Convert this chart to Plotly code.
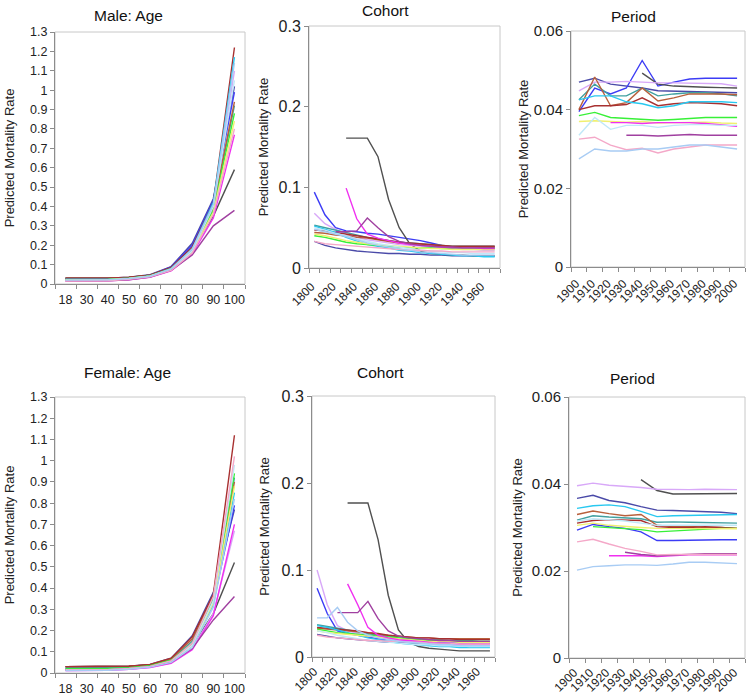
import plotly.graph_objects as go

# ---------------- data ----------------
series_names = ["navy", "blue", "black", "lavender", "teal", "sienna", "darkred", "cyan",
                "green", "yellow", "magenta", "lightcyan", "purple", "pink", "lightblue"]
series_colors = ["#4a4aa8", "#3c3cf5", "#505050", "#d8a8f8", "#40a0a0", "#b8603c", "#a83030",
                 "#28c8f0", "#38f038", "#f0f070", "#f030f0", "#c0e8f8", "#a040a0", "#f4a8c8", "#a8ccf4"]

age_labels = ["18", "30", "40", "50", "60", "70", "80", "90", "100"]
cohort_years = [1800, 1810, 1820, 1830, 1840, 1850, 1860, 1870, 1880, 1890,
                1900, 1910, 1920, 1930, 1940, 1950, 1960, 1970]
cohort_ticks = [1800, 1820, 1840, 1860, 1880, 1900, 1920, 1940, 1960]
period_years = [1900, 1910, 1920, 1930, 1940, 1950, 1960, 1970, 1980, 1990, 2000]

male_age = {
    "navy":      [0.030, 0.030, 0.030, 0.035, 0.048, 0.090, 0.210, 0.440, 1.02],
    "blue":      [0.025, 0.025, 0.025, 0.032, 0.045, 0.088, 0.200, 0.430, 0.99],
    "black":     [0.030, 0.030, 0.030, 0.034, 0.045, 0.080, 0.170, 0.350, 0.59],
    "lavender":  [0.020, 0.020, 0.022, 0.028, 0.040, 0.075, 0.170, 0.400, 1.10],
    "teal":      [0.028, 0.028, 0.028, 0.033, 0.044, 0.080, 0.180, 0.390, 0.92],
    "sienna":    [0.030, 0.030, 0.030, 0.034, 0.045, 0.082, 0.180, 0.400, 0.94],
    "darkred":   [0.030, 0.030, 0.030, 0.035, 0.045, 0.085, 0.190, 0.420, 1.22],
    "cyan":      [0.025, 0.025, 0.025, 0.030, 0.042, 0.080, 0.180, 0.420, 1.17],
    "green":     [0.022, 0.022, 0.024, 0.030, 0.042, 0.078, 0.170, 0.380, 0.88],
    "yellow":    [0.020, 0.020, 0.022, 0.028, 0.040, 0.075, 0.170, 0.370, 0.84],
    "magenta":   [0.015, 0.015, 0.016, 0.022, 0.035, 0.068, 0.155, 0.340, 0.77],
    "lightcyan": [0.020, 0.020, 0.020, 0.027, 0.040, 0.075, 0.170, 0.400, 1.05],
    "purple":    [0.015, 0.015, 0.016, 0.022, 0.036, 0.070, 0.150, 0.300, 0.38],
    "pink":      [0.015, 0.015, 0.017, 0.024, 0.037, 0.070, 0.160, 0.360, 0.80],
    "lightblue": [0.020, 0.020, 0.022, 0.028, 0.040, 0.078, 0.180, 0.410, 1.14],
}

female_age = {
    "navy":      [0.030, 0.030, 0.030, 0.032, 0.040, 0.070, 0.175, 0.380, 0.77],
    "blue":      [0.020, 0.020, 0.021, 0.025, 0.034, 0.060, 0.140, 0.330, 0.79],
    "black":     [0.030, 0.030, 0.030, 0.032, 0.038, 0.060, 0.130, 0.280, 0.52],
    "lavender":  [0.012, 0.012, 0.013, 0.017, 0.027, 0.048, 0.115, 0.280, 0.67],
    "teal":      [0.025, 0.025, 0.026, 0.028, 0.036, 0.062, 0.150, 0.350, 0.92],
    "sienna":    [0.030, 0.030, 0.030, 0.032, 0.038, 0.066, 0.160, 0.360, 0.90],
    "darkred":   [0.030, 0.030, 0.030, 0.032, 0.040, 0.070, 0.170, 0.370, 1.12],
    "cyan":      [0.015, 0.015, 0.016, 0.020, 0.030, 0.055, 0.130, 0.320, 0.85],
    "green":     [0.020, 0.020, 0.021, 0.025, 0.034, 0.060, 0.140, 0.350, 0.94],
    "yellow":    [0.015, 0.015, 0.016, 0.020, 0.030, 0.055, 0.130, 0.330, 0.88],
    "magenta":   [0.012, 0.012, 0.013, 0.017, 0.026, 0.046, 0.110, 0.270, 0.70],
    "lightcyan": [0.015, 0.015, 0.016, 0.020, 0.030, 0.055, 0.130, 0.340, 0.98],
    "purple":    [0.015, 0.015, 0.016, 0.020, 0.030, 0.050, 0.115, 0.250, 0.36],
    "pink":      [0.015, 0.015, 0.016, 0.021, 0.031, 0.057, 0.140, 0.360, 1.02],
    "lightblue": [0.012, 0.012, 0.013, 0.018, 0.028, 0.050, 0.120, 0.310, 0.82],
}

male_cohort = {
    "navy":      [0.033, 0.028, 0.025, 0.023, 0.021, 0.020, 0.019, 0.018, 0.018, 0.017, 0.017, 0.016, 0.016, 0.015, 0.015, 0.015, 0.015, 0.015],
    "blue":      [0.094, 0.066, 0.050, 0.046, 0.045, 0.043, 0.042, 0.040, 0.038, 0.036, 0.034, 0.031, 0.028, 0.026, 0.026, 0.026, 0.026, 0.026],
    "black":     [None, None, None, 0.161, 0.161, 0.161, 0.138, 0.085, 0.050, 0.030, 0.021, 0.018, 0.017, 0.016, 0.016, 0.015, 0.015, 0.015],
    "lavender":  [0.068, 0.055, 0.048, 0.042, 0.038, 0.035, 0.033, 0.031, 0.029, 0.028, 0.027, 0.026, 0.025, 0.024, 0.023, 0.023, 0.022, 0.022],
    "teal":      [0.053, 0.050, 0.047, 0.044, 0.041, 0.038, 0.036, 0.034, 0.032, 0.031, 0.030, 0.029, 0.028, 0.027, 0.027, 0.027, 0.027, 0.027],
    "sienna":    [0.044, 0.043, 0.041, 0.040, 0.038, 0.037, 0.035, 0.033, 0.031, 0.030, 0.029, 0.028, 0.027, 0.026, 0.026, 0.026, 0.026, 0.026],
    "darkred":   [0.047, 0.046, 0.044, 0.042, 0.040, 0.038, 0.036, 0.034, 0.032, 0.031, 0.030, 0.029, 0.028, 0.027, 0.027, 0.027, 0.027, 0.027],
    "cyan":      [0.052, 0.048, 0.044, 0.038, 0.033, 0.029, 0.027, 0.025, 0.022, 0.021, 0.019, 0.018, 0.017, 0.016, 0.015, 0.015, 0.014, 0.014],
    "green":     [0.040, 0.038, 0.035, 0.032, 0.030, 0.029, 0.028, 0.027, 0.026, 0.025, 0.025, 0.025, 0.024, 0.024, 0.024, 0.024, 0.024, 0.024],
    "yellow":    [0.042, 0.040, 0.037, 0.034, 0.032, 0.030, 0.029, 0.028, 0.027, 0.026, 0.025, 0.024, 0.024, 0.023, 0.023, 0.023, 0.023, 0.023],
    "magenta":   [None, None, None, 0.099, 0.061, 0.042, 0.037, 0.034, 0.031, 0.029, 0.028, 0.027, 0.026, 0.025, 0.025, 0.025, 0.024, 0.024],
    "lightcyan": [0.050, 0.047, 0.043, 0.040, 0.036, 0.033, 0.030, 0.028, 0.026, 0.024, 0.022, 0.021, 0.020, 0.019, 0.019, 0.018, 0.018, 0.018],
    "purple":    [None, None, 0.045, 0.045, 0.046, 0.062, 0.050, 0.039, 0.033, 0.030, 0.028, 0.027, 0.026, 0.026, 0.025, 0.025, 0.025, 0.025],
    "pink":      [0.033, 0.030, 0.029, 0.028, 0.027, 0.026, 0.025, 0.024, 0.023, 0.022, 0.022, 0.021, 0.021, 0.020, 0.020, 0.020, 0.020, 0.020],
    "lightblue": [0.048, 0.045, 0.042, 0.039, 0.035, 0.031, 0.028, 0.026, 0.024, 0.022, 0.020, 0.019, 0.018, 0.017, 0.016, 0.016, 0.016, 0.016],
}

female_cohort = {
    "navy":      [0.026, 0.024, 0.022, 0.021, 0.020, 0.019, 0.018, 0.017, 0.017, 0.016, 0.016, 0.016, 0.016, 0.016, 0.016, 0.016, 0.016, 0.016],
    "blue":      [0.079, 0.050, 0.030, 0.027, 0.025, 0.023, 0.021, 0.020, 0.019, 0.018, 0.018, 0.017, 0.017, 0.016, 0.016, 0.016, 0.016, 0.016],
    "black":     [None, None, None, 0.177, 0.177, 0.177, 0.135, 0.071, 0.031, 0.017, 0.012, 0.010, 0.009, 0.008, 0.007, 0.007, 0.007, 0.007],
    "lavender":  [0.100, 0.060, 0.036, 0.030, 0.027, 0.025, 0.023, 0.021, 0.019, 0.018, 0.017, 0.016, 0.015, 0.014, 0.014, 0.013, 0.013, 0.013],
    "teal":      [0.037, 0.035, 0.033, 0.031, 0.029, 0.027, 0.025, 0.024, 0.023, 0.022, 0.021, 0.020, 0.020, 0.019, 0.019, 0.019, 0.018, 0.018],
    "sienna":    [0.033, 0.032, 0.031, 0.030, 0.029, 0.028, 0.026, 0.025, 0.024, 0.023, 0.022, 0.022, 0.021, 0.021, 0.021, 0.021, 0.021, 0.021],
    "darkred":   [0.034, 0.033, 0.032, 0.031, 0.030, 0.028, 0.027, 0.025, 0.024, 0.023, 0.022, 0.022, 0.021, 0.021, 0.020, 0.020, 0.020, 0.020],
    "cyan":      [0.036, 0.034, 0.031, 0.028, 0.025, 0.022, 0.020, 0.018, 0.016, 0.015, 0.014, 0.013, 0.012, 0.012, 0.011, 0.011, 0.011, 0.011],
    "green":     [0.032, 0.030, 0.028, 0.027, 0.026, 0.025, 0.024, 0.023, 0.022, 0.021, 0.020, 0.019, 0.019, 0.018, 0.018, 0.018, 0.018, 0.018],
    "yellow":    [0.030, 0.028, 0.027, 0.026, 0.025, 0.024, 0.023, 0.022, 0.021, 0.020, 0.019, 0.018, 0.018, 0.018, 0.017, 0.017, 0.017, 0.017],
    "magenta":   [None, None, None, 0.084, 0.060, 0.034, 0.025, 0.022, 0.020, 0.019, 0.018, 0.017, 0.016, 0.016, 0.015, 0.015, 0.015, 0.015],
    "lightcyan": [0.030, 0.028, 0.025, 0.023, 0.021, 0.019, 0.018, 0.017, 0.016, 0.015, 0.014, 0.014, 0.013, 0.013, 0.013, 0.012, 0.012, 0.012],
    "purple":    [None, None, 0.051, 0.051, 0.051, 0.064, 0.044, 0.030, 0.024, 0.022, 0.021, 0.020, 0.019, 0.019, 0.018, 0.018, 0.018, 0.018],
    "pink":      [0.025, 0.023, 0.022, 0.021, 0.020, 0.019, 0.019, 0.018, 0.018, 0.017, 0.017, 0.016, 0.016, 0.016, 0.015, 0.015, 0.015, 0.015],
    "lightblue": [0.045, 0.045, 0.057, 0.040, 0.030, 0.025, 0.022, 0.020, 0.018, 0.017, 0.016, 0.015, 0.014, 0.014, 0.013, 0.013, 0.013, 0.013],
}

male_period = {
    "navy":      [0.0470, 0.0480, 0.0465, 0.0460, 0.0455, 0.0448, 0.0447, 0.0447, 0.0446, 0.0445, 0.0443],
    "blue":      [0.0395, 0.0455, 0.0440, 0.0455, 0.0525, 0.0460, 0.0470, 0.0478, 0.0480, 0.0480, 0.0480],
    "black":     [None, None, None, None, 0.0493, 0.0465, 0.0460, 0.0458, 0.0457, 0.0456, 0.0455],
    "lavender":  [0.0448, 0.0470, 0.0470, 0.0472, 0.0470, 0.0468, 0.0468, 0.0467, 0.0467, 0.0466, 0.0460],
    "teal":      [0.0425, 0.0465, 0.0435, 0.0435, 0.0455, 0.0435, 0.0440, 0.0443, 0.0443, 0.0440, 0.0435],
    "sienna":    [0.0400, 0.0483, 0.0410, 0.0418, 0.0455, 0.0422, 0.0430, 0.0440, 0.0440, 0.0440, 0.0438],
    "darkred":   [0.0400, 0.0410, 0.0410, 0.0413, 0.0430, 0.0410, 0.0415, 0.0418, 0.0417, 0.0415, 0.0410],
    "cyan":      [0.0425, 0.0435, 0.0435, 0.0420, 0.0415, 0.0405, 0.0410, 0.0420, 0.0420, 0.0420, 0.0418],
    "green":     [0.0385, 0.0393, 0.0380, 0.0378, 0.0375, 0.0373, 0.0375, 0.0378, 0.0380, 0.0380, 0.0380],
    "yellow":    [0.0370, 0.0372, 0.0370, 0.0368, 0.0370, 0.0366, 0.0367, 0.0368, 0.0368, 0.0366, 0.0365],
    "magenta":   [None, None, 0.0367, 0.0367, 0.0365, 0.0367, 0.0367, 0.0367, 0.0365, 0.0362, 0.0358],
    "lightcyan": [0.0335, 0.0380, 0.0350, 0.0360, 0.0360, 0.0355, 0.0360, 0.0362, 0.0362, 0.0360, 0.0360],
    "purple":    [None, None, None, 0.0335, 0.0335, 0.0333, 0.0335, 0.0337, 0.0335, 0.0335, 0.0335],
    "pink":      [0.0325, 0.0330, 0.0310, 0.0298, 0.0302, 0.0290, 0.0300, 0.0305, 0.0310, 0.0310, 0.0310],
    "lightblue": [0.0275, 0.0300, 0.0295, 0.0295, 0.0300, 0.0300, 0.0305, 0.0310, 0.0310, 0.0305, 0.0300],
}

female_period = {
    "navy":      [0.0367, 0.0374, 0.0362, 0.0357, 0.0348, 0.0340, 0.0339, 0.0338, 0.0337, 0.0335, 0.0332],
    "blue":      [0.0294, 0.0307, 0.0302, 0.0298, 0.0290, 0.0270, 0.0270, 0.0271, 0.0272, 0.0272, 0.0272],
    "black":     [None, None, None, None, 0.0410, 0.0385, 0.0377, 0.0377, 0.0377, 0.0377, 0.0378],
    "lavender":  [0.0396, 0.0402, 0.0397, 0.0395, 0.0392, 0.0388, 0.0387, 0.0387, 0.0388, 0.0388, 0.0387],
    "teal":      [0.0317, 0.0327, 0.0324, 0.0322, 0.0320, 0.0312, 0.0313, 0.0312, 0.0311, 0.0310, 0.0310],
    "sienna":    [0.0330, 0.0338, 0.0332, 0.0327, 0.0330, 0.0305, 0.0302, 0.0303, 0.0300, 0.0300, 0.0298],
    "darkred":   [0.0310, 0.0316, 0.0318, 0.0317, 0.0316, 0.0302, 0.0300, 0.0300, 0.0302, 0.0300, 0.0298],
    "cyan":      [0.0344, 0.0350, 0.0352, 0.0348, 0.0337, 0.0325, 0.0327, 0.0328, 0.0328, 0.0330, 0.0330],
    "green":     [None, 0.0302, 0.0300, 0.0298, 0.0295, 0.0290, 0.0292, 0.0295, 0.0297, 0.0298, 0.0298],
    "yellow":    [0.0305, 0.0310, 0.0305, 0.0302, 0.0300, 0.0298, 0.0298, 0.0298, 0.0298, 0.0298, 0.0297],
    "magenta":   [None, None, 0.0235, 0.0235, 0.0235, 0.0233, 0.0235, 0.0237, 0.0237, 0.0237, 0.0237],
    "lightcyan": [0.0315, 0.0320, 0.0318, 0.0315, 0.0310, 0.0305, 0.0305, 0.0305, 0.0305, 0.0305, 0.0305],
    "purple":    [None, None, None, 0.0243, 0.0238, 0.0235, 0.0237, 0.0239, 0.0240, 0.0240, 0.0240],
    "pink":      [0.0267, 0.0273, 0.0262, 0.0252, 0.0245, 0.0237, 0.0238, 0.0238, 0.0238, 0.0238, 0.0238],
    "lightblue": [0.0202, 0.0210, 0.0212, 0.0214, 0.0214, 0.0213, 0.0216, 0.0220, 0.0220, 0.0219, 0.0217],
}

panel_titles = ["Male: Age", "Cohort", "Period", "Female: Age", "Cohort", "Period"]
y_title = "Predicted Mortality Rate"

# ---------------- figure ----------------
W, H = 750, 700
FONT = "Liberation Sans, Arial, sans-serif"
AXIS_COLOR = "#8c8c8c"
FRAME_COLOR = "#c8c8c8"
TXT = "#222222"

def px_x(p):
    return p / W

def px_y(p):
    return 1 - p / H

# plot areas in pixels: (left, right, top, bottom)
areas = [
    (55, 245, 32, 284),
    (309, 500, 26, 268),
    (571, 745, 31, 267),
    (55, 245, 397, 673),
    (312, 495, 396, 657),
    (569, 745, 397, 658),
]
title_standoff = [12, 6, 2, 12, 8, 6]
ytick_size = [12.5, 16, 15, 12.5, 16, 15]

fig = go.Figure()

age_x = list(range(len(age_labels)))
panels = [
    (male_age, age_x), (male_cohort, cohort_years), (male_period, period_years),
    (female_age, age_x), (female_cohort, cohort_years), (female_period, period_years),
]

for k, (data, xs) in enumerate(panels):
    ax = "" if k == 0 else str(k + 1)
    for name, color in zip(series_names, series_colors):
        if name not in data:
            continue
        fig.add_trace(go.Scatter(
            x=xs, y=data[name], mode="lines", name=name,
            line=dict(color=color, width=1.4),
            xaxis="x" + ax, yaxis="y" + ax, showlegend=False,
            hoverinfo="x+y",
        ))

layout = dict(
    width=W, height=H, margin=dict(l=0, r=0, t=0, b=0, autoexpand=False),
    paper_bgcolor="white", plot_bgcolor="white",
    font=dict(family=FONT, size=13, color=TXT),
    showlegend=False,
)

age_tick_font = dict(family=FONT, size=12.5, color=TXT)
rot_tick_font = dict(family=FONT, size=12, color=TXT)

for k in range(6):
    l, r, t, b = areas[k]
    ax = "" if k == 0 else str(k + 1)
    col = k % 3
    xa = dict(
        domain=[px_x(l), px_x(r)], anchor="y" + ax, automargin=False,
        showline=True, linecolor=AXIS_COLOR, linewidth=1,
        showgrid=False, zeroline=False, ticks="", fixedrange=True,
    )
    if col == 0:
        xa.update(range=[-0.5, len(age_labels) - 0.5], tickmode="array",
                  tickvals=age_x, ticktext=age_labels, tickfont=age_tick_font,
                  tickangle=0, ticklabelstandoff=4,
                  minor=dict(tickmode="linear", tick0=-0.5, dtick=1, ticks="outside",
                             ticklen=4, tickcolor=AXIS_COLOR, showgrid=False))
    elif col == 1:
        xa.update(range=[cohort_years[0] - 5, cohort_years[-1] + 5], tickmode="array",
                  tickvals=cohort_ticks, ticktext=[str(v) for v in cohort_ticks],
                  tickangle=-45, tickfont=rot_tick_font, ticklabelshift=-3,
                  ticklabelstandoff=6 if k == 1 else 2,
                  minor=dict(tickmode="linear", tick0=cohort_years[0] - 5, dtick=10,
                             ticks="outside", ticklen=4, tickcolor=AXIS_COLOR, showgrid=False))
    else:
        xa.update(range=[period_years[0] - 5, period_years[-1] + 5], tickmode="array",
                  tickvals=period_years, ticktext=[str(v) for v in period_years],
                  tickangle=-45, tickfont=rot_tick_font, ticklabelshift=-3,
                  ticklabelstandoff=4 if k == 2 else 2,
                  minor=dict(tickmode="linear", tick0=period_years[0] - 5, dtick=10,
                             ticks="outside", ticklen=4, tickcolor=AXIS_COLOR, showgrid=False))

    ya = dict(
        domain=[px_y(b), px_y(t)], anchor="x" + ax, automargin=False,
        showline=True, linecolor=AXIS_COLOR, linewidth=1,
        showgrid=False, zeroline=False, ticks="outside", ticklen=4,
        tickcolor=AXIS_COLOR, fixedrange=True,
        tickfont=dict(family=FONT, size=ytick_size[k], color=TXT),
        title=dict(text=y_title, font=dict(family=FONT, size=13, color=TXT),
                   standoff=title_standoff[k]),
    )
    if col == 0:
        yt = [round(i * 0.1, 1) for i in range(14)]
        ya.update(range=[0, 1.3], tickmode="array", tickvals=yt,
                  ticktext=["0" if v == 0 else ("1" if v == 1 else f"{v:g}") for v in yt])
    elif col == 1:
        yt = [0, 0.1, 0.2, 0.3]
        ya.update(range=[0, 0.3], tickmode="array", tickvals=yt,
                  ticktext=["0", "0.1", "0.2", "0.3"])
    else:
        yt = [0, 0.02, 0.04, 0.06]
        ya.update(range=[0, 0.06], tickmode="array", tickvals=yt,
                  ticktext=["0", "0.02", "0.04", "0.06"])

    layout["xaxis" + ax] = xa
    layout["yaxis" + ax] = ya

fig.update_layout(**layout)

# light frame around each plot area
shapes = []
for k in range(6):
    ax = "" if k == 0 else str(k + 1)
    shapes.append(dict(type="rect", xref=("x" + ax) + " domain", yref=("y" + ax) + " domain",
                       x0=0, x1=1, y0=0, y1=1, line=dict(color=FRAME_COLOR, width=1),
                       fillcolor="rgba(0,0,0,0)", layer="below"))
fig.update_layout(shapes=shapes)

# panel titles
title_pos = [(128, 15), (385, 11), (633, 17), (127, 373), (380, 373), (632, 378)]
annotations = []
for (tx, ty), txt in zip(title_pos, panel_titles):
    annotations.append(dict(text=txt, x=px_x(tx), y=px_y(ty), xref="paper", yref="paper",
                            showarrow=False, xanchor="center", yanchor="middle",
                            font=dict(family=FONT, size=15.5, color="#111111")))
fig.update_layout(annotations=annotations)

# remove the default 8px page margin so the figure sits at the window's corner
fig.write_html("out.html",
               config={"displayModeBar": False, "staticPlot": False},
               post_script="document.body.style.margin='0';document.body.style.overflow='hidden';")
